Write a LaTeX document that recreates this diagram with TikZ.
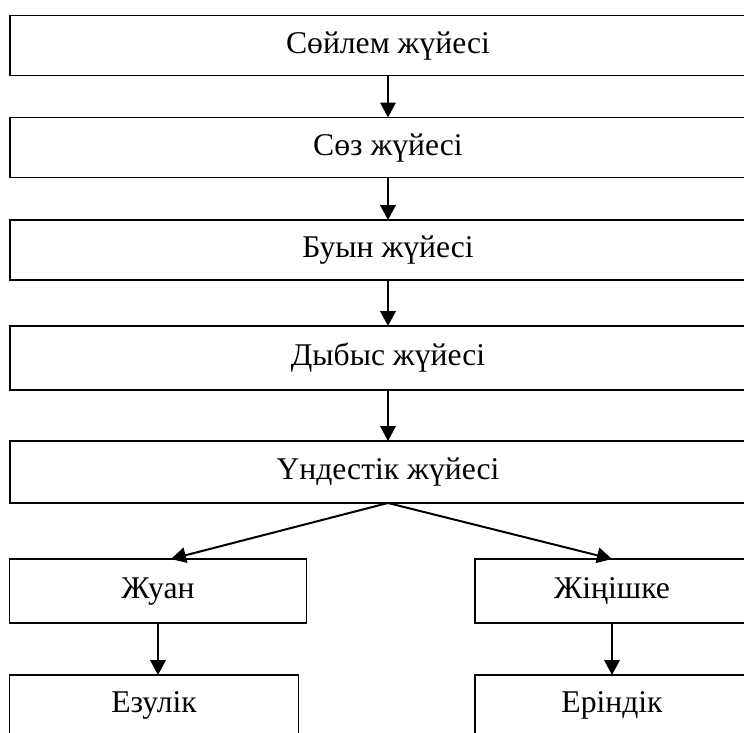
\documentclass[tikz,border=0pt]{standalone}
\usepackage{fontspec}
\setmainfont{Liberation Serif}
\usepackage{tikz}
\usetikzlibrary{arrows.meta}
\tikzstyle{box} = [draw, line width=0.8pt, rectangle, inner sep=0pt, outer sep=0pt, minimum height=1.2cm, text height=0.88em, text depth=0pt, font=\fontsize{18}{20}\selectfont]
\tikzstyle{wide} = [box, minimum width=15.12cm]
\tikzstyle{half} = [box, minimum width=5.95cm]
\tikzstyle{arrow} = [line width=1.15pt, -{Triangle[length=3mm, width=3.1mm]}]

\begin{document}
\begin{tikzpicture}[x = 0.02cm, y = -0.02cm]
	\clip (0, 0) rectangle (744, 733) ;
	
	\node[wide] (A) at (388, 45.5) {Сөйлем жүйесі} ;
	\node[wide] (B) at (388, 147.5) {Сөз жүйесі} ;
	\node[wide] (C) at (388, 250) {Буын жүйесі} ;
	\node[wide, minimum height=1.28cm] (D) at (388, 358) {Дыбыс жүйесі} ;
	\node[wide, minimum height=1.24cm] (E) at (388, 472) {Үндестік жүйесі} ;
	
	\node[half, minimum height=1.28cm] (L) at (158, 591) {Жуан} ;
	\node[box, minimum width=5.48cm, minimum height=1.28cm] (R) at (612, 591) {Жіңішке} ;
	
	\node[box, minimum width=5.78cm] (L') at (154, 705) {Езулік} ;
	\node[box, minimum width=5.48cm] (R') at (612, 705) {Еріндік} ;
	
	\foreach \p/\q in {A/B, B/C, C/D, D/E}
	{
		\draw[arrow] (\p) -- (\q) ;
	}
	
	\draw[arrow] (E.south) -- ([xshift=0.26cm]L.north) ;
	\draw[arrow] (E.south) -- (R.north) ;
	
	\draw[arrow] (L.south) -- (L.south |- L'.north) ;
	\draw[arrow] (R) -- (R') ;
	
\end{tikzpicture}
\end{document}
